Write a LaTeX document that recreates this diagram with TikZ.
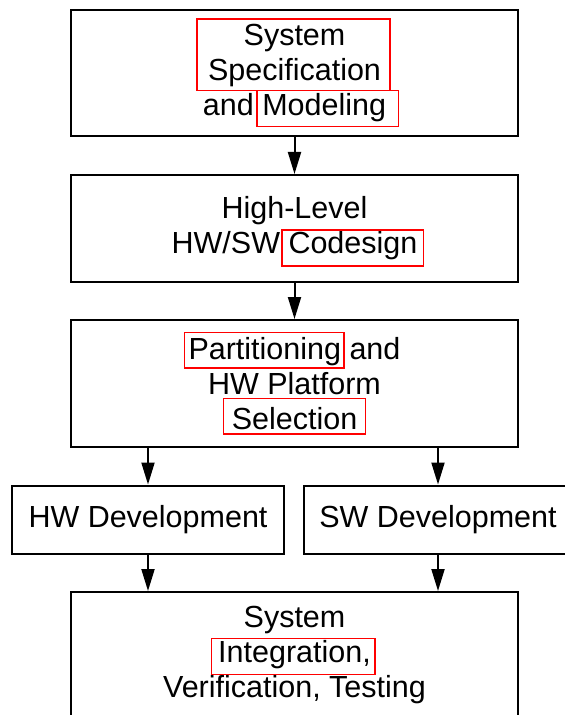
\documentclass[tikz,border=0pt]{standalone}
\usepackage{fontspec}
\setmainfont{Liberation Sans}
\usetikzlibrary{arrows.meta}
\begin{document}
\begin{tikzpicture}[x=1bp,y=-1bp,
  box/.style={draw=black,line width=2bp,align=center,inner sep=0pt,
    font=\fontsize{30.5bp}{35bp}\selectfont,minimum width=447bp},
  flow/.style={line width=2bp,-{Triangle[length=22bp,width=13bp]}},
  hilite/.style={draw=red,line width=1.6bp}]
\useasboundingbox (0,0) rectangle (565,715);
\node[box,minimum height=126bp] (spec) at (294.5,73) {System\\Specification\\and Modeling};
\node[box,minimum height=107bp] (codes) at (294.5,228.5) {High-Level\\HW/SW Codesign};
\node[box,minimum height=127bp] (part) at (294.5,383.5) {Partitioning and\\HW Platform\\Selection};
\node[box,minimum width=272bp,minimum height=68bp] (hw) at (148,519.5) {HW Development};
\node[box,minimum width=268bp,minimum height=68bp] (sw) at (438,519.5) {SW Development};
\node[box,minimum height=126bp] (integ) at (294.5,655) {System\\Integration,\\Verification, Testing};
\draw[flow] (spec) -- (codes);
\draw[flow] (codes) -- (part);
\draw[flow] (part.south -| hw) -- (hw);
\draw[flow] (part.south -| sw) -- (sw);
\draw[flow] (hw) -- (hw |- integ.north);
\draw[flow] (sw) -- (sw |- integ.north);
\draw[hilite] (196.7,19) rectangle (390,90.7);
\draw[hilite] (256.7,90.7) rectangle (398.3,126.7);
\draw[hilite] (281.7,230) rectangle (423.3,266);
\draw[hilite] (184.3,332.3) rectangle (344,368);
\draw[hilite] (223.3,398.3) rectangle (365.3,434);
\draw[hilite] (211.5,638.3) rectangle (375,674.3);
\end{tikzpicture}
\end{document}
